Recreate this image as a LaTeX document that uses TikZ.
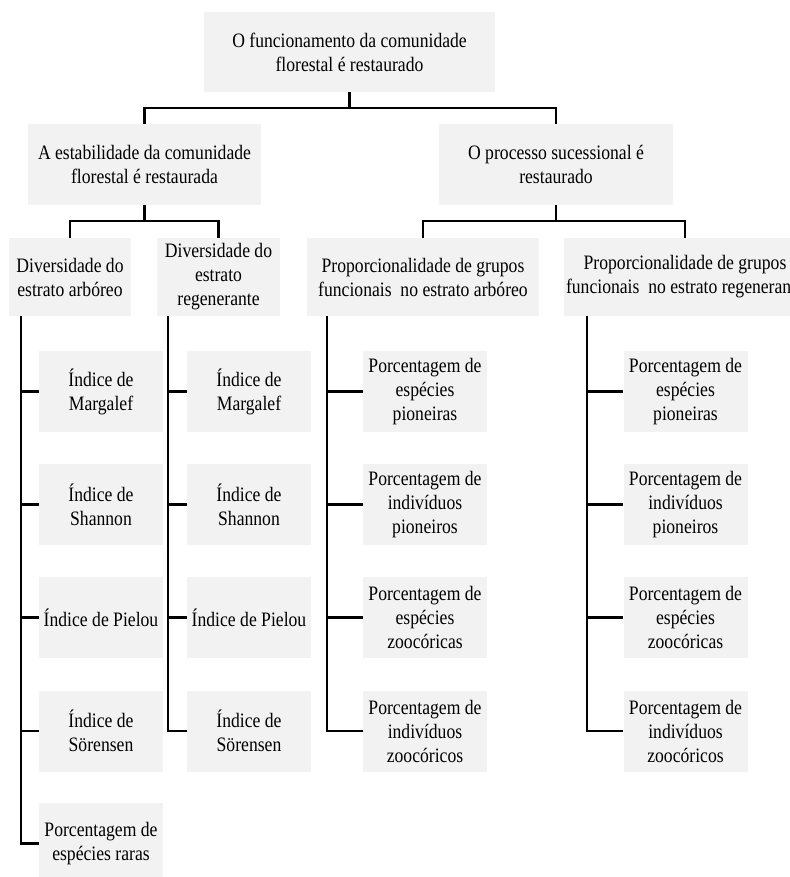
\documentclass[tikz,border=0pt]{standalone}
\usepackage{fontspec}
\setmainfont{Liberation Serif}[FakeStretch=0.86]
\begin{document}
\begin{tikzpicture}[x=1pt,y=-1pt,
  box/.style={fill=boxgray,draw=none,inner sep=0pt,align=center,
    font=\fontsize{20.5}{24}\selectfont},
  leaf/.style={box,minimum width=124pt,minimum height=81pt},
  conn/.style={draw=black,line width=2.5pt}]
\definecolor{boxgray}{RGB}{242,242,242}
\useasboundingbox (0,0) rectangle (789,877);
% level 1
\node[box,minimum width=291pt,minimum height=80pt] (top) at (349.5,52)
  {O funcionamento da comunidade\\florestal é restaurado};
% level 2
\node[box,minimum width=233pt,minimum height=81pt] (L2a) at (144.5,164.5)
  {A estabilidade da comunidade\\florestal é restaurada};
\node[box,minimum width=234pt,minimum height=81pt] (L2b) at (556,164.5)
  {O processo sucessional é\\restaurado};
% level 3
\node[box,minimum width=122pt,minimum height=78pt] (L3a) at (70,277)
  {Diversidade do\\estrato arbóreo};
\node[box,minimum width=123pt,minimum height=78pt] (L3b) at (218.5,277)
  {Diversidade do\\estrato\\regenerante};
\node[box,minimum width=232pt,minimum height=78pt] (L3c) at (423,277)
  {Proporcionalidade de grupos\\funcionais \ no estrato arbóreo};
\node[box,minimum width=242pt,minimum height=78pt] (L3d) at (685,277)
  {Proporcionalidade de grupos\\funcionais \ no estrato regenerante};
% leaves column A
\node[leaf] (a1) at (101,391.5) {Índice de\\Margalef};
\node[leaf] (a2) at (101,504.5) {Índice de\\Shannon};
\node[leaf] (a3) at (101,617.5) {Índice de Pielou};
\node[leaf] (a4) at (101,731) {Índice de\\Sörensen};
\node[leaf] (a5) at (101,843.5) {Porcentagem de\\espécies raras};
% leaves column B
\node[leaf] (b1) at (249,391.5) {Índice de\\Margalef};
\node[leaf] (b2) at (249,504.5) {Índice de\\Shannon};
\node[leaf] (b3) at (249,617.5) {Índice de Pielou};
\node[leaf] (b4) at (249,731) {Índice de\\Sörensen};
% leaves column C
\node[leaf] (c1) at (425,391.5) {Porcentagem de\\espécies\\pioneiras};
\node[leaf] (c2) at (425,504.5) {Porcentagem de\\indivíduos\\pioneiros};
\node[leaf] (c3) at (425,617.5) {Porcentagem de\\espécies\\zoocóricas};
\node[leaf] (c4) at (425,731) {Porcentagem de\\indivíduos\\zoocóricos};
% leaves column D
\node[leaf] (d1) at (685.5,391.5) {Porcentagem de\\espécies\\pioneiras};
\node[leaf] (d2) at (685.5,504.5) {Porcentagem de\\indivíduos\\pioneiros};
\node[leaf] (d3) at (685.5,617.5) {Porcentagem de\\espécies\\zoocóricas};
\node[leaf] (d4) at (685.5,731) {Porcentagem de\\indivíduos\\zoocóricos};
% junctions
\coordinate (j1) at (top.south |- 0,108);
\coordinate (j2) at (L2a.south |- 0,221);
\coordinate (j3) at (L2b.south |- 0,221);
\draw[conn] (top.south) -- (j1);
\draw[conn] (L2a.north) |- (j1) -| (L2b.north);
\draw[conn] (L2a.south) -- (j2);
\draw[conn] (L3a.north) |- (j2) -| (L3b.north);
\draw[conn] (L2b.south) -- (j3);
\draw[conn] (L3c.north) |- (j3) -| (L3d.north);
% trunks
\coordinate (tA) at ([xshift=-49pt]L3a.south);
\coordinate (tB) at ([xshift=-50.5pt]L3b.south);
\coordinate (tC) at ([xshift=-96pt]L3c.south);
\coordinate (tD) at ([xshift=-98pt]L3d.south);
\draw[conn] (tA) |- (a5.west);
\draw[conn] (tB) |- (b4.west);
\draw[conn] (tC) |- (c4.west);
\draw[conn] (tD) |- (d4.west);
\foreach \i in {1,2,3,4} {
  \draw[conn] (a\i.west) -- (a\i.west -| tA);
}
\foreach \i in {1,2,3} {
  \draw[conn] (b\i.west) -- (b\i.west -| tB);
  \draw[conn] (c\i.west) -- (c\i.west -| tC);
  \draw[conn] (d\i.west) -- (d\i.west -| tD);
}
\end{tikzpicture}
\end{document}
